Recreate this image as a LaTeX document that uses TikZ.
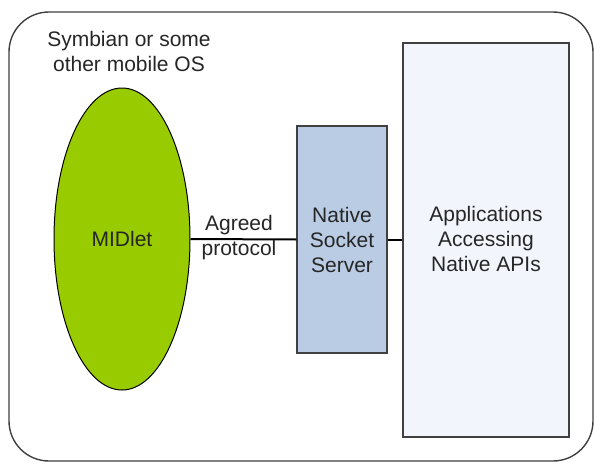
\documentclass[tikz,border=0pt]{standalone}
\usepackage{fontspec}
\setmainfont{Liberation Sans}
\usetikzlibrary{shapes.geometric}
\definecolor{midgreen}{HTML}{99CC00}
\definecolor{sockblue}{HTML}{B9CCE4}
\definecolor{appblue}{HTML}{F2F6FC}
\definecolor{edge}{HTML}{404040}
\definecolor{txt}{HTML}{262626}
\begin{document}
\begin{tikzpicture}[x=1pt,y=-1pt,
  lbl/.style={font=\fontsize{21}{25}\selectfont, text=txt, align=center, inner sep=0pt},
  boxstyle/.style={draw=edge, line width=1.5pt},
  link/.style={draw=black, line width=2pt}]
\useasboundingbox (0,0) rectangle (594,463);
\fill[white] (0,0) rectangle (594,463);
\draw[edge, line width=1.4pt, fill=white, rounded corners=40pt] (9,12) rectangle (593,461);
\node[lbl] (os) at (129,51) {Symbian or some\\other mobile OS};
\node[ellipse, draw=black, line width=1pt, fill=midgreen, minimum width=136pt, minimum height=302pt, inner sep=0pt] (midlet) at (122,239) {};
\node[lbl] at (midlet.center) {MIDlet};
\node[boxstyle, fill=sockblue, minimum width=90pt, minimum height=227pt, inner sep=0pt] (sock) at (342,239.5) {};
\node[lbl] at (342,240) {Native\\Socket\\Server};
\node[boxstyle, fill=appblue, minimum width=166pt, minimum height=394pt, inner sep=0pt] (apps) at (486,240) {};
\node[lbl] at (486,239) {Applications\\Accessing\\Native APIs};
\draw[link] (midlet.east) -- (sock.west);
\draw[link] (sock.east) -- (sock.east -| apps.west);
\node[lbl] (proto) at (239,238) {Agreed\\protocol};
\end{tikzpicture}
\end{document}
